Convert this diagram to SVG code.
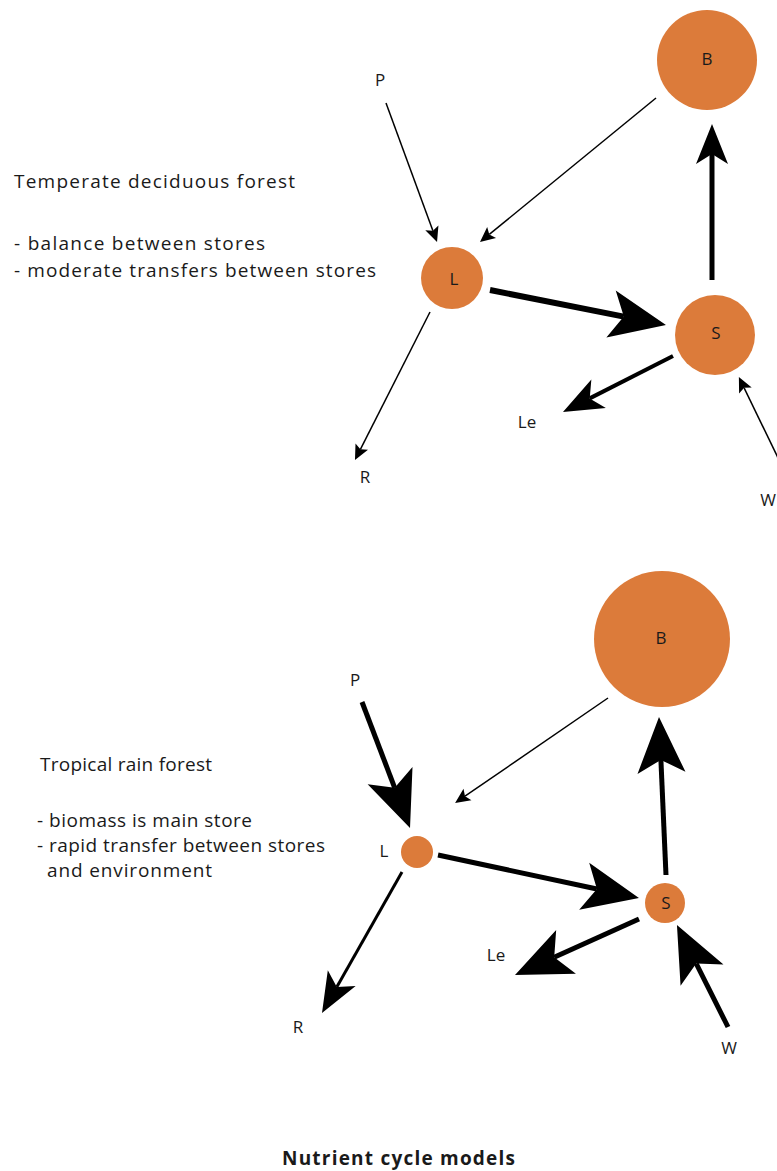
<svg xmlns="http://www.w3.org/2000/svg" width="777" height="1171" viewBox="0 0 777 1171">
<style>
text{font-family:"Open Sans","Liberation Sans",Arial,sans-serif;fill:#1a1a1a}
.desc{font-size:19px}
.lbl{font-size:17px;text-anchor:middle}
.title{font-size:19px;font-weight:bold}
.store{fill:#DC7B3A}
.c{stroke:#000;fill:none;stroke-linecap:butt}
.thin{stroke-width:1.5}
</style>
<defs>
<marker id="hThin" markerUnits="userSpaceOnUse" orient="auto" refX="3" refY="0" markerWidth="20" markerHeight="20" overflow="visible"><path d="M0,-7 L15,0 L0,7 L3,0 Z" fill="#000"/></marker>
<marker id="hMed" markerUnits="userSpaceOnUse" orient="auto" refX="10" refY="0" markerWidth="50" markerHeight="50" overflow="visible"><path d="M0,-16 L40,0 L0,16 L10,0 Z" fill="#000"/></marker>
<marker id="hBig" markerUnits="userSpaceOnUse" orient="auto" refX="13" refY="0" markerWidth="70" markerHeight="70" overflow="visible"><path d="M0,-24 L56,0 L0,24 L13,0 Z" fill="#000"/></marker>
</defs>
<rect width="777" height="1171" fill="#fff"/>

<g id="connectors">
<!-- top diagram -->
<line class="c thin" x1="386" y1="103" x2="432.9" y2="230.7" marker-end="url(#hThin)"/>
<line class="c thin" x1="656" y1="98" x2="489.3" y2="234.4" marker-end="url(#hThin)"/>
<line class="c" stroke-width="6" x1="490" y1="290" x2="623.8" y2="316.6" marker-end="url(#hBig)"/>
<line class="c" stroke-width="5" x1="712" y1="280" x2="712" y2="154" marker-end="url(#hMed)"/>
<line class="c" stroke-width="4" x1="673" y1="356" x2="589.7" y2="398.4" marker-end="url(#hMed)"/>
<line class="c thin" x1="780" y1="462" x2="744.1" y2="387.8" marker-end="url(#hThin)"/>
<line class="c thin" x1="430" y1="312" x2="360.4" y2="449.3" marker-end="url(#hThin)"/>
<!-- bottom diagram -->
<line class="c" stroke-width="5" x1="362" y1="702" x2="394.7" y2="787.8" marker-end="url(#hBig)"/>
<line class="c thin" x1="608" y1="698" x2="465" y2="796.2" marker-end="url(#hThin)"/>
<line class="c" stroke-width="5" x1="438" y1="855" x2="596.9" y2="889" marker-end="url(#hBig)"/>
<line class="c" stroke-width="5" x1="666" y1="875" x2="660.9" y2="759.9" marker-end="url(#hBig)"/>
<line class="c" stroke-width="5" x1="639" y1="919" x2="554.2" y2="957.3" marker-end="url(#hBig)"/>
<line class="c" stroke-width="5" x1="728" y1="1027" x2="696.2" y2="963.5" marker-end="url(#hBig)"/>
<line class="c" stroke-width="3" x1="402" y1="872" x2="336.8" y2="986.9" marker-end="url(#hMed)"/>
</g>

<g id="top-B"><circle class="store" cx="707" cy="60" r="50"/><text class="lbl" x="707" y="65">B</text></g>
<g id="top-L"><circle class="store" cx="452" cy="278" r="31"/><text class="lbl" x="454" y="285">L</text></g>
<g id="top-S"><circle class="store" cx="715" cy="335" r="40"/><text class="lbl" x="716" y="339">S</text></g>
<g id="top-P"><text class="lbl" x="380" y="86">P</text></g>
<g id="top-Le"><text class="lbl" x="527" y="428">Le</text></g>
<g id="top-R"><text class="lbl" x="365" y="483">R</text></g>
<g id="top-W"><text class="lbl" x="768" y="506">W</text></g>

<g id="bot-B"><circle class="store" cx="662" cy="639" r="68"/><text class="lbl" x="661" y="644">B</text></g>
<g id="bot-L"><circle class="store" cx="417" cy="852" r="16"/></g>
<g id="bot-Llabel"><text class="lbl" x="384" y="857">L</text></g>
<g id="bot-S"><circle class="store" cx="665" cy="903" r="20"/><text class="lbl" x="666" y="909">S</text></g>
<g id="bot-P"><text class="lbl" x="355" y="686">P</text></g>
<g id="bot-Le"><text class="lbl" x="496" y="961">Le</text></g>
<g id="bot-R"><text class="lbl" x="298" y="1033">R</text></g>
<g id="bot-W"><text class="lbl" x="729" y="1054">W</text></g>

<g id="text-temperate">
<text class="desc" x="14" y="188" textLength="281" lengthAdjust="spacing">Temperate deciduous forest</text>
<text class="desc" x="14" y="250" textLength="251" lengthAdjust="spacing">- balance between stores</text>
<text class="desc" x="14" y="277" textLength="362" lengthAdjust="spacing">- moderate transfers between stores</text>
</g>
<g id="text-tropical">
<text class="desc" x="40" y="771" textLength="172" lengthAdjust="spacing">Tropical rain forest</text>
<text class="desc" x="37" y="827" textLength="215" lengthAdjust="spacing">- biomass is main store</text>
<text class="desc" x="37" y="852" textLength="288" lengthAdjust="spacing">- rapid transfer between stores</text>
<text class="desc" x="47" y="877" textLength="165" lengthAdjust="spacing">and environment</text>
</g>
<g id="title"><text class="title" x="282" y="1165" textLength="233" lengthAdjust="spacing">Nutrient cycle models</text></g>
</svg>
